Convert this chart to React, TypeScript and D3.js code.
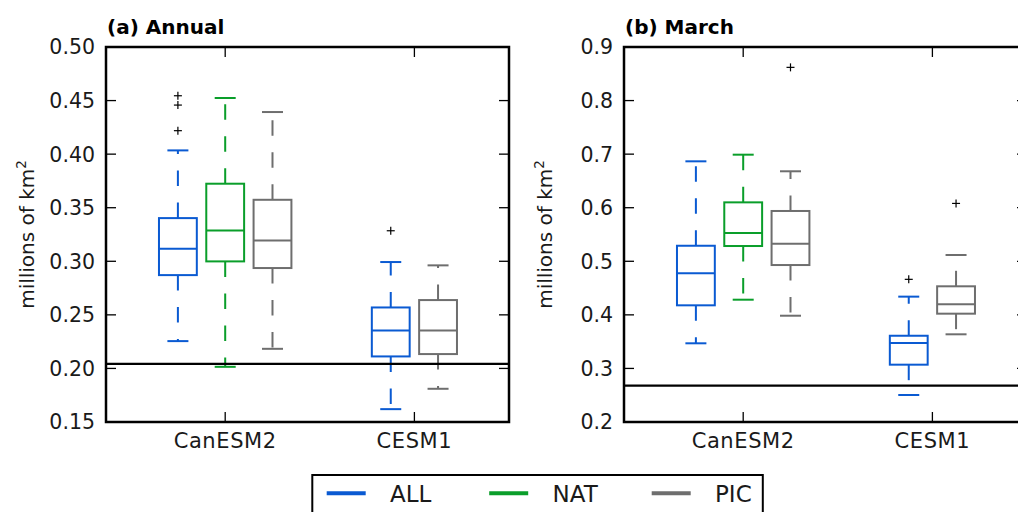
import React from "react";
import * as d3 from "d3";

// Box statistics per model: [lower whisker, Q1, median, Q3, upper whisker]
const categories = ["CanESM2", "CESM1"];
const seriesNames = ["ALL", "NAT", "PIC"];
const seriesColors = ["#0a5ad2", "#0a9e2a", "#6e6e6e"];

const annualALL = [
  [0.2255, 0.2871, 0.3117, 0.3403, 0.4035],
  [0.162, 0.2112, 0.2355, 0.2569, 0.2993],
];
const annualNAT = [[0.2015, 0.2999, 0.3288, 0.3724, 0.4524], null];
const annualPIC = [
  [0.2183, 0.2937, 0.3195, 0.3574, 0.4393],
  [0.181, 0.2134, 0.2355, 0.2638, 0.2962],
];
const annualOutliersALL = [[0.4219, 0.4458, 0.4545], [0.3285]];
const annualOutliersNAT = [[], []];
const annualOutliersPIC = [[], []];
const annualObserved = 0.2043;
const annualTicks = [0.15, 0.2, 0.25, 0.3, 0.35, 0.4, 0.45, 0.5];

const marchALL = [
  [0.3469, 0.4178, 0.4775, 0.529, 0.6866],
  [0.2504, 0.307, 0.3475, 0.361, 0.434],
];
const marchNAT = [[0.4283, 0.5285, 0.5528, 0.61, 0.699], null];
const marchPIC = [
  [0.3984, 0.493, 0.5328, 0.5939, 0.668],
  [0.3637, 0.4022, 0.4197, 0.4533, 0.5117],
];
const marchOutliersALL = [[], [0.4663]];
const marchOutliersNAT = [[], []];
const marchOutliersPIC = [[0.862], [0.608]];
const marchObserved = 0.2678;
const marchTicks = [0.2, 0.3, 0.4, 0.5, 0.6, 0.7, 0.8, 0.9];

const FONT = "'DejaVu Sans', sans-serif";

type Stats = number[] | null;

interface PanelProps {
  left: number;
  title: string;
  domain: [number, number];
  ticks: number[];
  tickFormat: string;
  stats: Stats[][];
  outliers: number[][][];
  observed: number;
}

const TOP = 47;
const BOTTOM = 422;
const WIDTH = 403;
const TICK = 10;

function Panel({ left, title, domain, ticks, tickFormat, stats, outliers, observed }: PanelProps) {
  const right = left + WIDTH;
  const x = d3.scaleLinear().domain([0.37, 2.5]).range([left, right]);
  const y = d3.scaleLinear().domain(domain).range([BOTTOM, TOP]);
  const fmt = d3.format(tickFormat);
  const boxW = x(0.2) - x(0);
  const capW = x(0.111) - x(0);

  const marks: React.ReactNode[] = [];
  categories.forEach((cat, ci) => {
    const present = seriesNames.map((_, si) => si).filter((si) => stats[si][ci]);
    present.forEach((si, k) => {
      const s = stats[si][ci] as number[];
      const pos = ci + 1 + (k - (present.length - 1) / 2) * 0.25;
      const cx = x(pos);
      const col = seriesColors[si];
      const [lo, q1, med, q3, hi] = s;
      marks.push(
        <g key={`${cat}-${si}`} stroke={col} strokeWidth={2} fill="none">
          <line x1={cx} x2={cx} y1={y(q1)} y2={y(lo)} strokeDasharray="15.5,16.5" />
          <line x1={cx} x2={cx} y1={y(q3)} y2={y(hi)} strokeDasharray="15.5,16.5" />
          <line x1={cx - capW / 2} x2={cx + capW / 2} y1={y(lo)} y2={y(lo)} />
          <line x1={cx - capW / 2} x2={cx + capW / 2} y1={y(hi)} y2={y(hi)} />
          <rect x={cx - boxW / 2} y={y(q3)} width={boxW} height={y(q1) - y(q3)} />
          <line x1={cx - boxW / 2} x2={cx + boxW / 2} y1={y(med)} y2={y(med)} />
          {outliers[si][ci].map((v, oi) => (
            <g key={oi} stroke="#000" strokeWidth={1.2}>
              <line x1={cx - 4} x2={cx + 4} y1={y(v)} y2={y(v)} />
              <line x1={cx} x2={cx} y1={y(v) - 4} y2={y(v) + 4} />
            </g>
          ))}
        </g>
      );
    });
  });

  return (
    <g>
      <text x={left + 1} y={34} fontFamily={FONT} fontWeight="bold" fontSize={20} fill="#000">
        {title}
      </text>
      {marks}
      <line x1={left} x2={right} y1={y(observed)} y2={y(observed)} stroke="#000" strokeWidth={2.2} />
      {/* ticks on all four spines, pointing inward */}
      {ticks.map((t) => (
        <g key={t}>
          <line x1={left} x2={left + TICK} y1={y(t)} y2={y(t)} stroke="#000" strokeWidth={1.3} />
          <line x1={right} x2={right - TICK} y1={y(t)} y2={y(t)} stroke="#000" strokeWidth={1.3} />
          <text
            x={left - 11}
            y={y(t)}
            dy="0.36em"
            textAnchor="end"
            fontFamily={FONT}
            fontSize={20.5}
            fill="#1a1a1a"
          >
            {fmt(t)}
          </text>
        </g>
      ))}
      {categories.map((c, i) => (
        <g key={c}>
          <line x1={x(i + 1)} x2={x(i + 1)} y1={BOTTOM} y2={BOTTOM - TICK} stroke="#000" strokeWidth={1.3} />
          <line x1={x(i + 1)} x2={x(i + 1)} y1={TOP} y2={TOP + TICK} stroke="#000" strokeWidth={1.3} />
          <text
            x={x(i + 1)}
            y={448}
            textAnchor="middle"
            fontFamily={FONT}
            fontSize={21}
            letterSpacing={0.6}
            fill="#1a1a1a"
          >
            {c}
          </text>
        </g>
      ))}
      <rect x={left} y={TOP} width={WIDTH} height={BOTTOM - TOP} fill="none" stroke="#000" strokeWidth={2.5} />
      <text
        transform={`translate(${left - 72},${(TOP + BOTTOM) / 2}) rotate(-90)`}
        textAnchor="middle"
        fontFamily={FONT}
        fontSize={20}
        fill="#1a1a1a"
      >
        millions of km
        <tspan dy={-8.5} fontSize={13.5}>
          2
        </tspan>
      </text>
    </g>
  );
}

export default function App() {
  const legendX = d3.scaleLinear().domain([0, 1]).range([326.7, 651.7]);
  return (
    <svg
      width={1018}
      height={512}
      style={{ position: "fixed", left: 0, top: 0, background: "#fff" }}
    >
      <rect width={1018} height={512} fill="#fff" />
      <Panel
        left={106}
        title="(a) Annual"
        domain={[0.15, 0.5]}
        ticks={annualTicks}
        tickFormat=".2f"
        stats={[annualALL, annualNAT, annualPIC]}
        outliers={[annualOutliersALL, annualOutliersNAT, annualOutliersPIC]}
        observed={annualObserved}
      />
      <Panel
        left={624}
        title="(b) March"
        domain={[0.2, 0.9]}
        ticks={marchTicks}
        tickFormat=".1f"
        stats={[marchALL, marchNAT, marchPIC]}
        outliers={[marchOutliersALL, marchOutliersNAT, marchOutliersPIC]}
        observed={marchObserved}
      />
      <g>
        <rect x={312.3} y={475} width={450.5} height={60} fill="#fff" stroke="#000" strokeWidth={2} />
        {seriesNames.map((name, i) => {
          const lx = legendX(i / 2);
          return (
            <g key={name}>
              <line x1={lx} x2={lx + 39} y1={493.3} y2={493.3} stroke={seriesColors[i]} strokeWidth={4} />
              <text x={lx + 63.3} y={501.5} fontFamily={FONT} fontSize={23} fill="#1a1a1a">
                {name}
              </text>
            </g>
          );
        })}
      </g>
    </svg>
  );
}
